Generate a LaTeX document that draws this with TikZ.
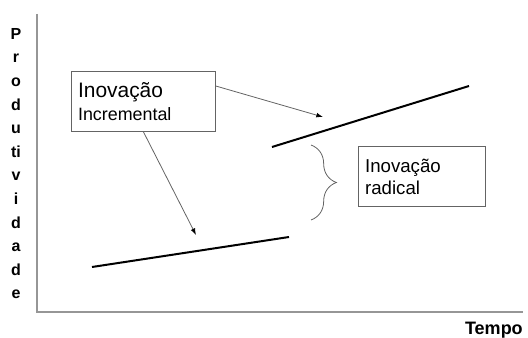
\documentclass[tikz,border=0pt]{standalone}
\usepackage{fontspec}
\setmainfont{Liberation Sans}
\usepackage{tikz}
\usetikzlibrary{arrows.meta, positioning}
\usetikzlibrary{decorations.pathreplacing}

\definecolor{axisgray}{RGB}{150,150,150}
\definecolor{linegray}{RGB}{100,100,100}

\begin{document}
\begin{tikzpicture}[x=0.75pt,y=0.75pt,yscale=-1,xscale=1,
  axis/.style={color=axisgray, line width=1.2pt},
  trend/.style={color=black, line width=1.5pt},
  pointer/.style={color=linegray, line width=0.6pt, -{Latex[length=5pt,width=3.5pt,color=black]}},
  textbox/.style={draw=linegray, line width=0.6pt, fill=white, anchor=north west, align=left, inner sep=5pt, minimum height=45pt}
]
\useasboundingbox (0,0) rectangle (528,338);

%Axes
\coordinate (ytop) at (37,14);
\coordinate (origin) at (37,312);
\coordinate (xend) at (523,312);
\draw [axis] (ytop) -- (origin) -- (xend) ;

% Text Node
\node (ylabel) [anchor=north, align=center, inner sep=0pt, font=\fontsize{12}{17.7}\selectfont\bfseries] at (16,28) {P\\r\\o\\d\\u\\ti\\v\\i\\d\\a\\d\\e};
% Text Node
\node (xlabel) [anchor=base east, inner sep=0pt, font=\fontsize{13.5}{15}\selectfont\bfseries] at (523,334) {Tempo};

%Straight Lines
\coordinate (low1) at (92,267);
\coordinate (low2) at (289,237);
\draw [trend] (low1) -- (low2) ;
%Straight Lines
\coordinate (high1) at (272,147);
\coordinate (high2) at (469,86);
\draw [trend] (high1) -- (high2) ;

% Text Node
\node (incbox) [textbox, text width=98pt, font=\fontsize{13.4}{17}\selectfont] at (71,71) {{\fontsize{15.7}{17}\selectfont Inovação}\\Incremental};
% Text Node
\node (radbox) [textbox, text width=85.25pt, font=\fontsize{14}{16.5}\selectfont] at (358,146) {Inovação\\radical\\[-5pt]};

%Arrows
\coordinate (uptip) at (323,117);
\coordinate (lowtip) at (196,235);
\draw [pointer] (incbox.12) -- (uptip) ;
\draw [pointer] (incbox.south) -- (lowtip) ;

%Brace
\coordinate (bracetop) at (311,145);
\coordinate (bracebot) at (311,220);
\draw [color=linegray, line width=0.6pt, decorate, decoration={brace, amplitude=19pt}] (bracetop) -- (bracebot) ;

\end{tikzpicture}
\end{document}
